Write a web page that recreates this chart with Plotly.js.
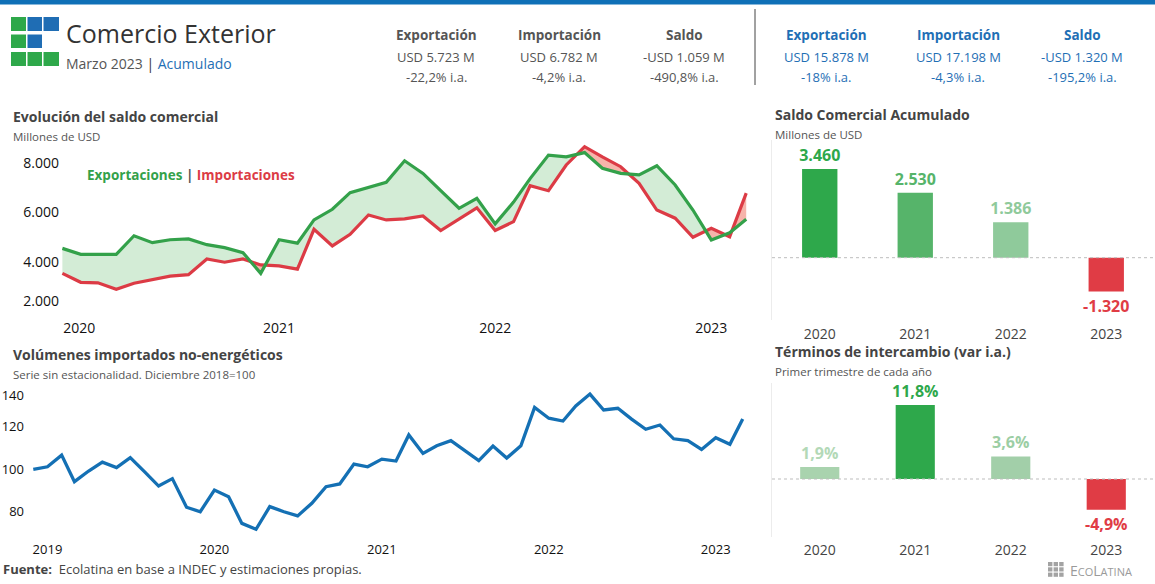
<!DOCTYPE html>
<html><head><meta charset="utf-8">
<script src="https://cdn.plot.ly/plotly-3.0.1.min.js"></script>
<style>html,body{margin:0;padding:0;background:#fff}#chart{width:1155px;height:584px}</style>
</head><body><div id="chart"></div>
<script>
// ---------- DATA ----------
const mesesComercio = ['2020-01','2020-02','2020-03','2020-04','2020-05','2020-06','2020-07','2020-08','2020-09','2020-10','2020-11','2020-12',
 '2021-01','2021-02','2021-03','2021-04','2021-05','2021-06','2021-07','2021-08','2021-09','2021-10','2021-11','2021-12',
 '2022-01','2022-02','2022-03','2022-04','2022-05','2022-06','2022-07','2022-08','2022-09','2022-10','2022-11','2022-12',
 '2023-01','2023-02','2023-03'];
const exportaciones = [4550,4310,4310,4310,5060,4780,4900,4930,4700,4580,4380,3540,
 4900,4760,5700,6130,6800,7000,7220,8090,7580,6880,6170,6570,
 5540,6420,7370,8320,8250,8420,7790,7580,7520,7890,7110,6100,
 4890,5180,5723];
const importaciones = [3540,3180,3160,2900,3140,3300,3430,3490,4120,3990,4120,3880,
 3840,3710,5320,4650,5120,5900,5700,5740,5860,5270,5740,6190,
 5270,5630,7080,6880,7920,8660,8250,7850,7180,6100,5770,5000,
 5360,5020,6782];
const ticksComercio = ['2021-01-01','2022-01-01','2023-01-01'];
const tickComercioInicio = ['2020-01-01'];
const ticksMillones = [4000,6000,8000];
const tickMillonesBajo = [2000];

const mesesVolumen = ['2018-12',
 '2019-01','2019-02','2019-03','2019-04','2019-05','2019-06','2019-07','2019-08','2019-09','2019-10','2019-11','2019-12',
 '2020-01','2020-02','2020-03','2020-04','2020-05','2020-06','2020-07','2020-08','2020-09','2020-10','2020-11','2020-12',
 '2021-01','2021-02','2021-03','2021-04','2021-05','2021-06','2021-07','2021-08','2021-09','2021-10','2021-11','2021-12',
 '2022-01','2022-02','2022-03','2022-04','2022-05','2022-06','2022-07','2022-08','2022-09','2022-10','2022-11','2022-12',
 '2023-01','2023-02','2023-03'];
const volumenes = [100,
 101.2,106.7,94.2,99.2,103.4,100.8,105.5,98.9,92.1,95.6,82.1,80,
 90.2,87.1,74.5,71.7,82.4,80,78,84,91.8,93.1,102.5,101.2,
 104.8,103.9,116.2,107.5,111.1,113.5,109.1,104.1,111,105.3,111.1,129.2,
 124.1,122.8,129.9,135.5,128,128.8,123.7,118.9,120.9,114.4,113.5,109.4,
 114.9,111.8,123.7];
const ticksVolumen = ['2019-01-01','2020-01-01','2021-01-01','2022-01-01','2023-01-01'];
const ticksIndice = [80,100,120];
const tickIndiceAlto = [140];

const aniosBarras = ['2020','2021','2022','2023'];
const saldoAcumulado = [3460,2530,1386,-1320];
const terminosIntercambio = [1.9,11.8,3.6,-4.9];

const statTitulos = ['Exportación','Importación','Saldo'];
const statMes = ['USD 5.723 M','USD 6.782 M','-USD 1.059 M'];
const statMesVar = ['-22,2% i.a.','-4,2% i.a.','-490,8% i.a.'];
const statAcum = ['USD 15.878 M','USD 17.198 M','-USD 1.320 M'];
const statAcumVar = ['-18% i.a.','-4,3% i.a.','-195,2% i.a.'];

// ---------- STYLE ----------
const W = 1155, H = 584;
const FONT = '"Open Sans", "Noto Sans", sans-serif';
const GREEN = '#33a14a', RED = '#dc3b45', BLUE = '#1470b4';
const fx = x => x / W, fy = y => 1 - y / H;

function toMs(s){ const p = s.split('-'); return Date.UTC(+p[0], +p[1]-1, 1); }
function fromMs(t){ return new Date(t).toISOString().replace('T',' ').slice(0,19); }
function withCrossings(x, a, b){
  const xs=[], A=[], B=[];
  for (let i=0;i<x.length;i++){
    const t = toMs(x[i]);
    xs.push(t); A.push(a[i]); B.push(b[i]);
    if (i < x.length-1){
      const d0 = a[i]-b[i], d1 = a[i+1]-b[i+1];
      if (d0*d1 < 0){
        const f = d0/(d0-d1), t1 = toMs(x[i+1]);
        const v = a[i] + f*(a[i+1]-a[i]);
        xs.push(t + f*(t1-t)); A.push(v); B.push(v);
      }
    }
  }
  return {x: xs.map(fromMs), a: A, b: B, low: A.map((v,i)=>Math.min(v,B[i]))};
}
function fmtMiles(v){
  const s = Math.abs(v).toFixed(0).replace(/\B(?=(\d{3})+(?!\d))/g,'.');
  return (v<0?'-':'') + s;
}
function fmtPct(v){ return v.toFixed(1).replace('.',',') + '%'; }

const cr = withCrossings(mesesComercio, exportaciones, importaciones);
const mComercio = mesesComercio.map(m => m + '-01');
const mVolumen = mesesVolumen.map(m => m + '-01');
const hidden = {mode:'lines', line:{width:0, color:'rgba(0,0,0,0)'}, hoverinfo:'skip'};

const traces = [
  Object.assign({x: cr.x, y: cr.low, xaxis:'x', yaxis:'y'}, hidden),
  Object.assign({x: cr.x, y: cr.a, xaxis:'x', yaxis:'y', fill:'tonexty', fillcolor:'#d3ecd6'}, hidden),
  Object.assign({x: cr.x, y: cr.low, xaxis:'x', yaxis:'y'}, hidden),
  Object.assign({x: cr.x, y: cr.b, xaxis:'x', yaxis:'y', fill:'tonexty', fillcolor:'#f6b4ab'}, hidden),
  {x: mComercio, y: importaciones, name:'Importaciones', xaxis:'x', yaxis:'y', mode:'lines', line:{width:3.2, color:RED}},
  {x: mComercio, y: exportaciones, name:'Exportaciones', xaxis:'x', yaxis:'y', mode:'lines', line:{width:3.2, color:GREEN}},
  {x: mVolumen, y: volumenes, name:'Volúmenes', xaxis:'x2', yaxis:'y2', mode:'lines', line:{width:3.3, color:BLUE}},
  {type:'bar', x: aniosBarras, y: saldoAcumulado, xaxis:'x3', yaxis:'y3', width:0.37,
   marker:{color:['#2ea84b','#56b46a','#8fca9b','#e03c45']},
   text: saldoAcumulado.map(fmtMiles), textposition:'outside', cliponaxis:false, constraintext:'none',
   textfont:{family:FONT, size:16, weight:700, color:['#2ea84b','#56b46a','#8fca9b','#e03c45']}},
  {type:'bar', x: aniosBarras, y: terminosIntercambio, xaxis:'x4', yaxis:'y4', width:0.41,
   marker:{color:['#a9d3ae','#2ea84b','#a2cfa9','#e03c45']},
   text: terminosIntercambio.map(fmtPct), textposition:'outside', cliponaxis:false, constraintext:'none',
   textfont:{family:FONT, size:16, weight:700, color:['#b3d9b7','#2ea84b','#9ccea4','#e03c45']}},
  // carriers for the overlaid tick axes (same data, invisible)
  Object.assign({x: mVolumen, y: volumenes, xaxis:'x2', yaxis:'y5'}, hidden),
  Object.assign({x: mComercio, y: exportaciones, xaxis:'x', yaxis:'y6'}, hidden),
  Object.assign({x: mComercio, y: exportaciones, xaxis:'x5', yaxis:'y'}, hidden)
];

const ax = {showgrid:false, zeroline:false, showline:false, ticks:'', fixedrange:true};

function ann(x, y, text, size, color, anchor, extra){
  return Object.assign({xref:'paper', yref:'paper', x:fx(x), y:fy(y), text:text, showarrow:false,
    xanchor: anchor||'left', yanchor:'middle', font:{family:FONT, size:size, color:color}}, extra||{});
}

const annotations = [
  ann(64, 33, 'Comercio Exterior', 25, '#333333'),
  ann(64, 63, '<span style="color:#555">Marzo 2023</span> <span style="color:#333">|</span> <span style="color:#1f6fb5">Acumulado</span>', 14, '#555'),
  ann(11, 116, '<b>Evolución del saldo comercial</b>', 14, '#444'),
  ann(11, 136, 'Millones de USD', 11.5, '#555'),
  ann(85, 175, '<b><span style="color:#33a14a">Exportaciones</span> <span style="color:#555">|</span> <span style="color:#dc3b45">Importaciones</span></b>', 13.5, '#333'),
  ann(11, 354, '<b>Volúmenes importados no-energéticos</b>', 14, '#444'),
  ann(11, 374, 'Serie sin estacionalidad. Diciembre 2018=100', 11.5, '#555'),
  ann(773, 115, '<b>Saldo Comercial Acumulado</b>', 14, '#444'),
  ann(773, 134, 'Millones de USD', 11.5, '#555'),
  ann(773, 351, '<b>Términos de intercambio (var i.a.)</b>', 14, '#444'),
  ann(773, 371, 'Primer trimestre de cada año', 11.5, '#555'),
  ann(1, 569, '<b>Fuente:</b>  Ecolatina en base a INDEC y estimaciones propias.', 13, '#444'),
  ann(1068, 570, 'E<span style="font-size:11px">CO</span>L<span style="font-size:11px">ATINA</span>', 14, '#9a9a9a')
];
const cxL = [436, 559, 684], cxR = [826, 958, 1082];
statTitulos.forEach((t,i)=>{
  annotations.push(ann(cxL[i], 35, '<b>'+t+'</b>', 13.5, '#555', 'center'));
  annotations.push(ann(cxL[i], 57, statMes[i], 13, '#555', 'center'));
  annotations.push(ann(cxL[i], 77, statMesVar[i], 13, '#555', 'center'));
  annotations.push(ann(cxR[i], 35, '<b>'+t+'</b>', 13.5, '#1f6fb5', 'center'));
  annotations.push(ann(cxR[i], 57, statAcum[i], 13, '#1f6fb5', 'center'));
  annotations.push(ann(cxR[i], 77, statAcumVar[i], 13, '#1f6fb5', 'center'));
});

function rect(x0,y0,x1,y1,color){
  return {type:'rect', xref:'paper', yref:'paper', x0:fx(x0), x1:fx(x1), y0:fy(y1), y1:fy(y0), fillcolor:color, line:{width:0}, layer:'above'};
}
const LG='#2ea84a', LB='#1f6db4';
const shapes = [
  rect(0,0,W,4.5,'#0f70b7'),
  rect(11,17,26,31,LG), rect(27.5,17,42,31,LB), rect(43.5,17,59,31,LB),
  rect(11,34.5,26,48,LG), rect(27.5,34.5,42,48,LB),
  rect(11,52,26,66,LG), rect(27.5,52,42,66,LG), rect(43.5,52,59,66,LG),
  {type:'line', xref:'paper', yref:'paper', x0:fx(755), x1:fx(755), y0:fy(9), y1:fy(85), line:{color:'#444', width:1}},
  {type:'line', xref:'paper', yref:'y3', x0:fx(772), x1:1, y0:0, y1:0, line:{color:'#bdbdbd', width:1, dash:'dot'}},
  {type:'line', xref:'paper', yref:'y4', x0:fx(772), x1:1, y0:0, y1:0, line:{color:'#bdbdbd', width:1, dash:'dot'}}
];
// small Ecolatina mark
[[0,0],[1,0],[2,0],[0,1],[1,1],[2,1],[0,2],[1,2],[2,2]].forEach(([c,r])=>{
  shapes.push(rect(1048+c*5.6, 562+r*5.3, 1048+c*5.6+4.4, 562+r*5.3+4.2, '#a3a3a3'));
});

const xTop = Object.assign({}, ax, {domain:[fx(60), fx(748)], type:'date', anchor:'y',
    range:['2019-12-28','2023-03-04'], tickformat:'%Y', tickfont:{size:14, color:'#111'}});
const yTop = Object.assign({}, ax, {domain:[fy(318), fy(140)], anchor:'x', range:[1737, 8929],
    tickformat:',.0f', tickfont:{size:14, color:'#111'}});
const yBot = Object.assign({}, ax, {domain:[fy(540), fy(382)], anchor:'x2', range:[66.65, 141.2],
    tickfont:{size:13, color:'#111'}, ticklabelstandoff:6});

const layout = {
  width:W, height:H, margin:{l:0,r:0,t:0,b:0}, paper_bgcolor:'#fff', plot_bgcolor:'rgba(0,0,0,0)',
  showlegend:false, separators:',.', font:{family:FONT, color:'#222'},
  xaxis: Object.assign({}, xTop, {tickvals:ticksComercio}),
  xaxis5: Object.assign({}, xTop, {tickvals:tickComercioInicio, overlaying:'x', ticklabelshift:17}),
  yaxis: Object.assign({}, yTop, {tickvals:ticksMillones}),
  yaxis6: Object.assign({}, yTop, {tickvals:tickMillonesBajo, overlaying:'y', ticklabelshift:-10}),
  xaxis2: Object.assign({}, ax, {domain:[fx(31), fx(745)], type:'date', anchor:'y2',
    range:['2018-11-26','2023-03-06'], tickvals:ticksVolumen, tickformat:'%Y', tickfont:{size:13, color:'#111'}}),
  yaxis2: Object.assign({}, yBot, {tickvals:ticksIndice}),
  yaxis5: Object.assign({}, yBot, {tickvals:tickIndiceAlto, overlaying:'y2', ticklabelshift:11}),
  xaxis3: Object.assign({}, ax, {domain:[fx(772), fx(1154)], anchor:'y3', type:'category', tickfont:{size:14, color:'#444'}, ticklabelstandoff:4}),
  yaxis3: Object.assign({}, ax, {domain:[fy(320), fy(140)], anchor:'x3', range:[-2431, 4592], showticklabels:false,
    showline:true, linecolor:'#ececec', linewidth:1}),
  xaxis4: Object.assign({}, ax, {domain:[fx(772), fx(1154)], anchor:'y4', type:'category', tickfont:{size:14, color:'#444'}, ticklabelstandoff:3}),
  yaxis4: Object.assign({}, ax, {domain:[fy(537), fy(383)], anchor:'x4', range:[-9.25, 15.31], showticklabels:false,
    showline:true, linecolor:'#ececec', linewidth:1}),
  annotations: annotations, shapes: shapes
};

Plotly.newPlot('chart', traces, layout, {staticPlot:true, displayModeBar:false});
</script></body></html>
